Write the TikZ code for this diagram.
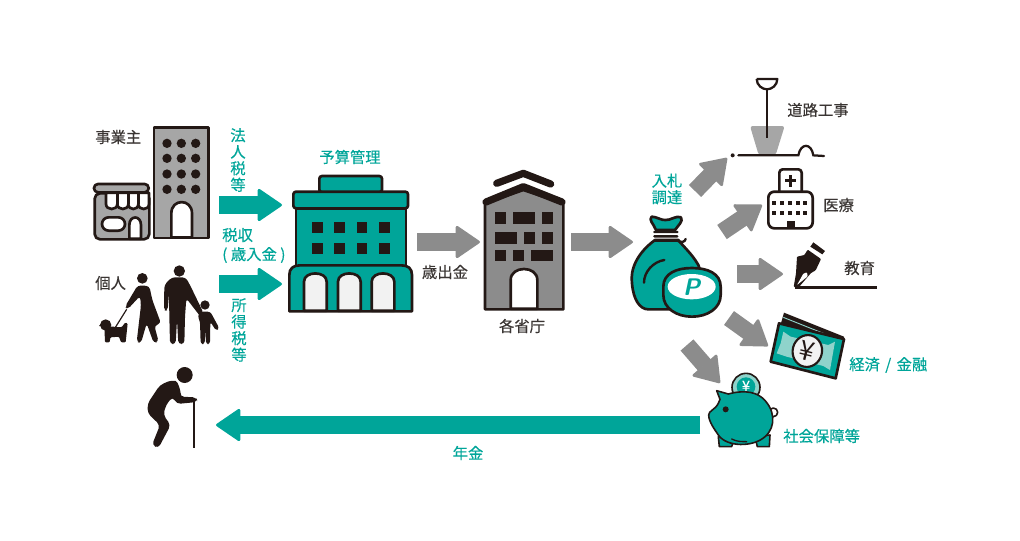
\documentclass[tikz,border=0pt]{standalone}
\usepackage{fontspec}
\newfontfamily\cjk[FakeBold=0.35]{Noto Sans CJK JP}
\usetikzlibrary{arrows.meta,%
		calc,%
		shapes.geometric}
\definecolor{mint}{HTML}{00A599}
\definecolor{mintlite}{HTML}{8FD3CB}
\definecolor{ink}{HTML}{231815}
\definecolor{inktext}{HTML}{3A3533}
\definecolor{stone}{HTML}{8C8C8C}
\definecolor{pale}{HTML}{A6A6A6}
\tikzset{
	outline/.style={draw=ink,line width=2pt,line join=round},
	fatarrow/.style={line width=12.8pt,
		arrows={-Triangle[length=19pt,width=25.5pt,line width=2pt,round]}},
	mintarrow/.style={fatarrow,draw=mint,color=mint},
	stonearrow/.style={fatarrow,draw=stone,color=stone},
	blacklabel/.style={text=inktext,font=\cjk\fontsize{11.5}{12.4}\selectfont,align=center,inner sep=0pt},
	mintlabel/.style={text=mint,font=\cjk\fontsize{11.5}{12.4}\selectfont,align=center,inner sep=0pt},
}
\begin{document}
\begin{tikzpicture}[x=.75pt,y=-.75pt]
\useasboundingbox (0,0) rectangle (1020,540);
%Edifici
\begin{scope}[shift={(80,110)},scale=1/3]
\draw[outline,fill=pale] (222,52) rectangle (386,384);
\foreach \x in {261,304,347} \foreach \y in {100,145,192,238}
	\fill[ink] (\x,\y) circle (14);
\draw[outline,fill=white] (274,382) -- (274,310) .. controls (274,265) and (336,265) .. (336,310) -- (336,382) -- cycle;
\draw[outline,fill=pale,rounded corners=4pt] (44,250) rectangle (208,388);
\draw[outline,fill=white] (78,248) -- (78,282) .. controls (78,302) and (112,302) .. (112,282)
	.. controls (112,302) and (145,302) .. (145,282) .. controls (145,302) and (175,302) .. (175,282)
	.. controls (175,302) and (207,302) .. (207,282) -- (207,248) -- cycle;
\draw[outline] (112,248) -- (112,282) (145,248) -- (145,282) (175,248) -- (175,282);
\draw[outline,fill=pale,rounded corners=3pt] (42,222) rectangle (206,247);
\draw[outline,fill=white,rounded corners=5pt] (66,322) rectangle (135,362);
\draw[outline,fill=white] (148,386) -- (148,345) .. controls (148,315) and (183,315) .. (183,345) -- (183,386) -- cycle;
\end{scope}
\begin{scope}[shift={(280,140)},scale=1/3]
\draw[outline,fill=mint] (48,205) rectangle (378,378);
\draw[outline,fill=mint,rounded corners=2pt] (118,108) rectangle (306,157);
\draw[outline,fill=mint,rounded corners=2pt] (40,155) rectangle (384,205);
\foreach \x in {96,163,230,297} \foreach \y in {246,308}
	\fill[ink] (\x,\y) rectangle ++(32,34);
\draw[outline,fill=mint] (28,514) -- (28,405) .. controls (28,385) and (40,376) .. (60,376) -- (364,376) .. controls (384,376) and (396,385) .. (396,405) -- (396,514) -- cycle;
\foreach \x in {72,174,275}
	\draw[outline,fill=white!95!black] (\x,512) -- (\x,425) .. controls (\x,392) and (\x+68,392) .. (\x+68,425) -- (\x+68,512) -- cycle;
\draw[outline,fill=stone] (615,190) -- (730,150) -- (850,190) -- (850,508) -- (615,508) -- cycle;
\draw[ink,line width=5.4pt,line cap=round,line join=round] (618,186) -- (730,140) -- (846,186);
\draw[ink,line width=5.4pt,line cap=round,line join=round] (650,130) -- (730,100) -- (812,132);
\foreach \a/\b/\c/\d in {644/216/678/252,698/216/766/252,786/216/820/252,
	644/276/712/312,733/276/766/312,786/276/820/312,
	644/330/678/364,698/330/732/364,752/330/820/364}
	\fill[ink] (\a,\b) rectangle (\c,\d);
\draw[outline,fill=white] (692,506) -- (692,420) .. controls (692,376) and (772,376) .. (772,420) -- (772,506) -- cycle;
\end{scope}
%Persone
\begin{scope}[shift={(95,260)},scale=1/3]
\fill[ink] (142,55) circle (16) (253,33) circle (17) (330,135) circle (14) (32,195) circle (17);
\fill[ink,rounded corners=2.5pt] (208,75) -- (230,52) -- (272,52) -- (285,75) -- (326,160) -- (318,172) -- (274,115) -- (270,170) -- (268,252) -- (250,252) -- (246,180) -- (242,252) -- (225,252) -- (223,170) -- (222,100) -- (218,152) -- (207,152) -- cycle;
\fill[ink,rounded corners=2.5pt] (128,76) -- (163,78) -- (172,120) -- (198,190) -- (178,197) -- (191,245) -- (176,249) -- (155,190) -- (138,249) -- (125,246) -- (138,135) -- (135,108) -- (98,148) -- (90,140) -- cycle;
\fill[ink,rounded corners=2pt] (316,155) -- (346,155) -- (373,205) -- (363,212) -- (346,185) -- (345,252) -- (333,252) -- (331,208) -- (329,252) -- (317,252) -- (315,185) -- (308,168) -- cycle;
\draw[ink,line width=.9pt] (95,148) -- (55,212);
\fill[ink,rounded corners=.8pt] (28,198) -- (80,202) -- (90,188) -- (98,190) -- (92,247) -- (78,247) -- (72,230) -- (46,232) -- (44,247) -- (30,247) -- cycle;
\fill[ink] (12,198) -- (28,180) -- (36,200) -- cycle;
\end{scope}
\begin{scope}[shift={(80,250)},scale=1/3]
\fill[ink] (314,375) circle (24);
\fill[ink,rounded corners=3pt] (275,390) .. controls (295,395) and (302,425) .. (300,440) -- (350,442) -- (352,456) -- (290,462) -- (278,440) -- (258,465) -- (250,495) -- (272,525) -- (235,595) -- (216,585) -- (240,525) -- (203,490) -- (203,460) -- (240,405) -- cycle;
\draw[ink,line width=1.5pt] (343,450) -- (343,595);
\end{scope}
%Opere
\begin{scope}[shift={(620,60)},scale=1/3]
\fill[pale,rounded corners=2pt] (390,198) -- (494,198) -- (467,285) -- (416,285) -- cycle;
\draw[ink,line width=1.7pt,line join=round] (410,57) -- (472,57) .. controls (472,76) and (455,88) .. (441,88) .. controls (427,88) and (410,76) .. (410,57);
\draw[ink,line width=1.7pt] (441,88) -- (441,235);
\fill[ink] (338,286) circle (6);
\draw[ink,line width=1.7pt,line cap=round] (355,286) -- (535,286) .. controls (542,248) and (574,248) .. (580,286) -- (612,288);
\draw[outline,fill=white,rounded corners=2.5pt] (478,395) -- (478,328) -- (545,328) -- (545,395);
\draw[outline,fill=white,rounded corners=4.5pt] (445,395) rectangle (578,505);
\draw[ink,line width=2.2pt] (512,345) -- (512,380) (495,362) -- (529,362);
\foreach \x in {463,487,510,533,556} \foreach \y in {428,460}
	\fill[ink] (\x-6,\y-6) rectangle ++(12,12);
\fill[ink] (500,483) rectangle (524,505);
\end{scope}
\begin{scope}[shift={(785,235)},scale=1/3]
\draw[ink,line width=1.9pt] (30,157) -- (276,157);
\fill[ink] (85,22) -- (120,48) -- (112,58) -- (76,35) -- cycle;
\fill[ink,rounded corners=.6pt] (68,44) -- (108,72) -- (92,106) -- (78,114) -- (42,156) -- (26,156) -- (33,115) -- (36,65) -- (58,60) -- cycle;
\fill[white,rounded corners=.6pt] (36,150) -- (55,116) -- (66,112) -- (68,124) -- cycle;
\end{scope}
\begin{scope}[shift={(620,240)},scale=1/3]
%sacco
\draw[outline,fill=mint] (105,0) .. controls (50,40) and (30,90) .. (36,130) .. controls (40,180) and (60,208) .. (85,208) -- (160,208) .. controls (230,170) and (250,100) .. (235,75) .. controls (215,40) and (190,20) .. (175,0) -- cycle;
\draw[outline,fill=mint] (108,-30) .. controls (100,-50) and (85,-60) .. (95,-70) .. controls (110,-70) and (125,-58) .. (137,-60) .. controls (150,-58) and (170,-75) .. (183,-68) .. controls (190,-55) and (175,-45) .. (165,-30) -- cycle;
\draw[ink,line width=1.8pt,line cap=round] (103,-24) -- (172,-24) (103,-11) -- (172,-11) (103,2) -- (172,2) .. controls (185,10) and (195,5) .. (197,-3);
\draw[ink,line width=1.8pt,line cap=round] (72,128) .. controls (72,95) and (100,65) .. (133,60);
%moneta
\draw[outline,fill=mint] (130,140) .. controls (130,100) and (170,84) .. (216,84) .. controls (262,84) and (302,100) .. (302,140) -- (302,165) .. controls (302,205) and (262,230) .. (216,230) .. controls (170,230) and (130,205) .. (130,165) -- cycle;
\fill[white] (215,140) ellipse [x radius=72,y radius=38];
\node[text=mint,font=\sffamily\bfseries\itshape\fontsize{18}{18}\selectfont,inner sep=0pt] (coinP) at (215,140) {P};
%banconota
\fill[ink] (492,218) -- (672,290) -- (660,340) -- (480,260) -- cycle;
\draw[mintlite,line width=.7pt] (490,232) -- (655,298);
\draw[outline,fill=mint] (477,250) -- (672,297) -- (647,415) -- (452,365) -- cycle;
\fill[mintlite] (490,275) -- (512,290) -- (625,315) -- (645,305) -- (630,390) -- (610,378) -- (500,350) -- (470,340) -- (482,310) -- cycle;
\node[ellipse,draw=ink,line width=1.6pt,fill=white!95!black,minimum width=22pt,minimum height=24pt,inner sep=0pt,rotate=-14] (yenNote) at (562,333) {};
\node[text=ink,font=\fontspec{Noto Sans CJK JP}\fontsize{20}{20}\selectfont,rotate=-14,inner sep=0pt] at (yenNote) {¥};
%salvadanaio
\draw[outline,line width=1.2pt,fill=mintlite] (378,442) circle (42);
\fill[mint] (378,440) circle (28);
\node[text=white,font=\cjk\fontsize{11}{11}\selectfont,inner sep=0pt] (yenPig) at (378,438) {¥};
\draw[outline,line width=1.2pt,fill=white] (460,517) circle (13);
\draw[outline,line width=1.2pt,fill=mint] (295,590) -- (298,620) -- (335,620) -- (345,590) -- cycle;
\draw[outline,line width=1.2pt,fill=mint] (405,590) -- (412,620) -- (448,620) -- (450,585) -- cycle;
\draw[outline,line width=1.2pt,fill=mint] (290,452) -- (325,462) .. controls (360,452) and (400,452) .. (425,472) .. controls (465,505) and (470,560) .. (435,590) .. controls (400,622) and (320,622) .. (295,585) .. controls (285,570) and (266,545) .. (266,525) .. controls (266,512) and (285,510) .. (295,490) -- (300,478) -- cycle;
\fill[ink] (317,508) circle (9);
\draw[ink,line width=1pt,line cap=round] (335,597) .. controls (350,605) and (365,605) .. (380,605);
\end{scope}
%Frecce
\coordinate (corpTail) at (219,205);
\coordinate (corpTip) at (282,205);
\coordinate (persTail) at (219,284);
\coordinate (persTip) at (282,284);
\coordinate (spendTail) at (417,242);
\coordinate (spendTip) at (480,242);
\coordinate (bidTail) at (571,242);
\coordinate (bidTip) at (633,242);
\coordinate (roadTail) at (695,191);
\coordinate (roadTip) at (727,158);
\coordinate (careTail) at (722,232);
\coordinate (careTip) at (762,205);
\coordinate (eduTail) at (737,274);
\coordinate (eduTip) at (783,274);
\coordinate (ecoTail) at (729,318);
\coordinate (ecoTip) at (768,346);
\coordinate (socTail) at (687,345);
\coordinate (socTip) at (720,383);
\coordinate (penTail) at (700,425);
\coordinate (penTip) at (216,425);
\draw[mintarrow] (corpTail) -- (corpTip);
\draw[mintarrow] (persTail) -- (persTip);
\draw[mintarrow] (penTail) -- (penTip);
\draw[stonearrow] (spendTail) -- (spendTip);
\draw[stonearrow] (bidTail) -- (bidTip);
\draw[stonearrow] (roadTail) -- (roadTip);
\draw[stonearrow] (careTail) -- (careTip);
\draw[stonearrow] (eduTail) -- (eduTip);
\draw[stonearrow] (ecoTail) -- (ecoTip);
\draw[stonearrow] (socTail) -- (socTip);
%Etichette
\node[blacklabel,anchor=west] (owner) at (95,137) {事業主};
\node[blacklabel,anchor=west] (person) at (95,283) {個人};
\node[mintlabel] (corpTax) at (238,160) {法\\人\\税\\等};
\node[mintlabel,anchor=west] (revenue) at (222,235) {税収};
\node[mintlabel,anchor=west] (revenueB) at (222,255) {( 歳入金 )};
\node[mintlabel] (persTax) at (239,330) {所\\得\\税\\等};
\node[mintlabel] (budget) at (350,157) {予算管理};
\node[blacklabel] (outlay) at (445,272) {歳出金};
\node[blacklabel] (agency) at (522,326) {各省庁};
\node[mintlabel] (tender) at (667,189) {入札\\調達};
\node[blacklabel,anchor=west] (road) at (787,110) {道路工事};
\node[blacklabel,anchor=west] (care) at (823,205) {医療};
\node[blacklabel,anchor=west] (edu) at (844,268) {教育};
\node[mintlabel,anchor=west] (eco) at (849,365) {経済\hspace{4pt}/\hspace{4pt}金融};
\node[mintlabel,anchor=west] (soc) at (783,436) {社会保障等};
\node[mintlabel] (pension) at (468,453) {年金};
\end{tikzpicture}
\end{document}
